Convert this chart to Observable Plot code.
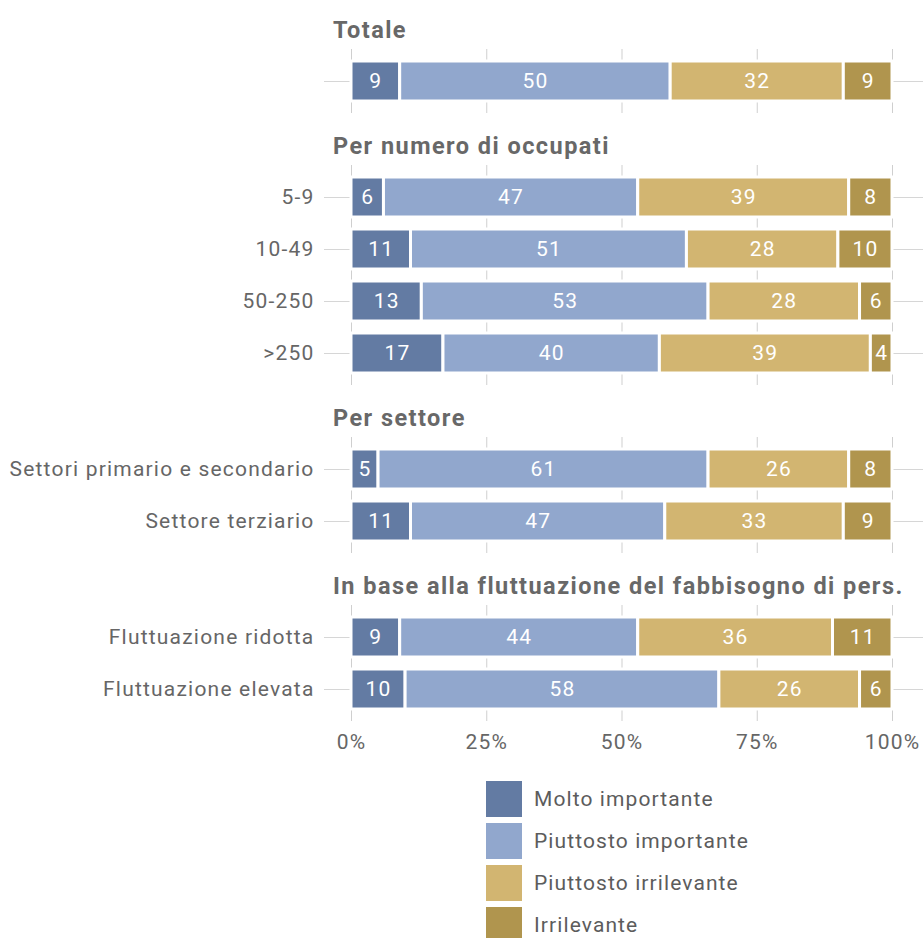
<!DOCTYPE html>
<html><head><meta charset="utf-8">
<script src="https://cdn.jsdelivr.net/npm/d3@7"></script>
<script src="https://cdn.jsdelivr.net/npm/@observablehq/plot@0.6"></script>
<style>
body{margin:0;background:#fff;font-family:Roboto, "Noto Sans", sans-serif;}
#chart{width:923px;}
.hdr{margin-left:333px;font-weight:700;font-size:23.5px;letter-spacing:1.45px;color:#686868;height:38px;line-height:38px;margin-top:14px;white-space:nowrap;}
.hdr.first{margin-top:11px;}
.legend{margin-left:486px;margin-top:18px;}
.legend .item{display:flex;align-items:center;height:36px;margin-bottom:6px;}
.legend .sw{width:36px;height:36px;margin-right:12px;}
.legend .lb{font-size:21px;letter-spacing:1.1px;color:#5c5c5c;}
</style></head><body><div id="chart"></div>
<script>
const categories = ["Molto importante","Piuttosto importante","Piuttosto irrilevante","Irrilevante"];
const colors = ["#637ba3","#91a7cd","#d2b571","#b0954e"];
const groups = ["Totale","Per numero di occupati","Per settore","In base alla fluttuazione del fabbisogno di pers."];
const rows = ["", "5-9","10-49","50-250",">250","Settori primario e secondario","Settore terziario","Fluttuazione ridotta","Fluttuazione elevata"];
const rowGroup = [0,1,1,1,1,2,2,3,3];
const moltoImportante = [9,6,11,13,17,5,11,9,10];
const piuttostoImportante = [50,47,51,53,40,61,47,44,58];
const piuttostoIrrilevante = [32,39,28,28,39,26,33,36,26];
const irrilevante = [9,8,10,6,4,8,9,11,6];
const xTicks = [0,25,50,75,100];

const series = [moltoImportante, piuttostoImportante, piuttostoIrrilevante, irrilevante];
const data = [];
rows.forEach((r, i) => {
  series.forEach((s, k) => data.push({row: r, group: rowGroup[i], cat: categories[k], value: s[i]}));
});

const root = document.getElementById("chart");
groups.forEach((g, gi) => {
  const h = document.createElement("div");
  h.className = "hdr" + (gi === 0 ? " first" : "");
  h.textContent = g;
  root.appendChild(h);
  const gRows = rows.filter((r, i) => rowGroup[i] === gi);
  const gData = data.filter(d => d.group === gi);
  const n = gRows.length;
  const last = gi === groups.length - 1;
  const plot = Plot.plot({
    width: 923,
    height: 52 * n + 12 + (last ? 42 : 0),
    marginLeft: 324, marginRight: 0, marginTop: 0, marginBottom: last ? 42 : 0,
    x: {domain: [0, 100], insetLeft: 27, insetRight: 31, axis: null},
    y: {domain: gRows, padding: 12 / 52, label: null, axis: null},
    color: {domain: categories, range: colors},
    style: {fontFamily: "Roboto, 'Noto Sans', sans-serif", fontSize: "21px", letterSpacing: "1.2px", color: "#666", background: "#fff", overflow: "visible"},
    marks: [
      Plot.gridX(xTicks, {stroke: "#cfcfcf", strokeOpacity: 1}),
      Plot.ruleY(gRows, {stroke: "#d6d6d6"}),
      Plot.axisY({anchor: "left", tickSize: 0, tickPadding: 10, fill: "#666", fontSize: 21, label: null}),
      Plot.barX(gData, Plot.stackX({x: "value", y: "row", fill: "cat", stroke: "white", strokeWidth: 3})),
      Plot.text(gData, Plot.stackX({x: "value", y: "row", z: "cat", text: d => String(d.value), fill: "white", fontSize: 21})),
      last ? Plot.axisX(xTicks, {tickSize: 0, tickPadding: 13, tickFormat: d => d + "%", fill: "#666", fontSize: 21, label: null}) : null
    ]
  });
  root.appendChild(plot);
});

const lg = document.createElement("div");
lg.className = "legend";
categories.forEach((c, k) => {
  const it = document.createElement("div");
  it.className = "item";
  const sw = document.createElement("div");
  sw.className = "sw";
  sw.style.background = colors[k];
  const lb = document.createElement("div");
  lb.className = "lb";
  lb.textContent = c;
  it.appendChild(sw); it.appendChild(lb);
  lg.appendChild(it);
});
root.appendChild(lg);
</script>
</body></html>
